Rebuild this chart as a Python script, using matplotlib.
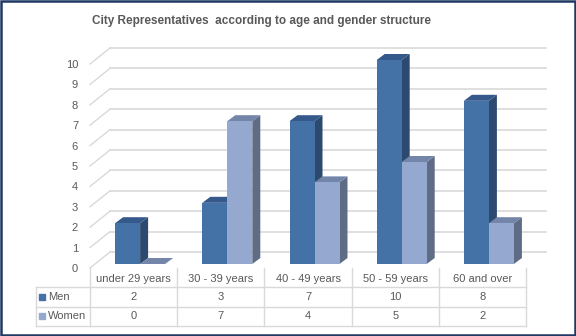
import matplotlib.pyplot as plt
from matplotlib.patches import Polygon, Rectangle

categories = ["under 29 years", "30 - 39 years", "40 - 49 years", "50 - 59 years", "60 and over"]
men = [2, 3, 7, 10, 8]
women = [0, 7, 4, 5, 2]
series_names = ["Men", "Women"]
y_ticks = list(range(0, 11))
title = "City Representatives  according to age and gender structure"

W, H = 576, 336
TEXT = "#595959"
GRID = "#D9D9D9"
MEN_C = ("#4472A6", "#35598A", "#2C4A70")      # front, top, side
WOMEN_C = ("#95A9D0", "#7385A8", "#5E6C86")

plt.rcParams["font.family"] = ["Liberation Sans", "DejaVu Sans"]

fig = plt.figure(figsize=(W / 100, H / 100), dpi=100)


def px_box(x0, y0, x1, y1):
    # pixel box (top-left origin) -> figure rect
    return [x0 / W, 1 - y1 / H, (x1 - x0) / W, (y1 - y0) / H]


# plot area: front floor edge from x=90..526, value 0..10 at y=268..64
ax = fig.add_axes(px_box(90, 64, 526, 268))
n = len(categories)
ax.set_xlim(-0.5, n - 0.5)
ax.set_ylim(0, 10)
for s in ax.spines.values():
    s.set_visible(False)
ax.set_xticks([])
ax.set_yticks(y_ticks)
ax.tick_params(axis="y", length=0, pad=8.6, labelsize=8, labelcolor=TEXT)

xu = n / 436.0   # data units per pixel
yu = 10 / 204.0

# back and side walls (3d depth offset)
wx, wy = 20 * xu, 16 * yu
for v in y_ticks:
    ax.plot([-0.5, -0.5 + wx], [v, v + wy], color=GRID, lw=1, zorder=0.5, clip_on=False)
    ax.plot([-0.5 + wx, n - 0.5 + wx], [v + wy, v + wy], color=GRID, lw=1.2,
            zorder=0.5, clip_on=False)

bw = 25 * xu
shift_x, lift = 6.5 * xu, 4 * yu
dx, dy = 8 * xu, 6 * yu


def bar3d(x0, h, colors):
    front, top, side = colors
    x1 = x0 + bw
    y0, y1 = lift, lift + h
    ax.add_patch(Polygon([(x1, y0), (x1 + dx, y0 + dy), (x1 + dx, y1 + dy), (x1, y1)],
                         closed=True, fc=side, ec="none", zorder=3, clip_on=False))
    ax.add_patch(Polygon([(x0, y1), (x0 + dx, y1 + dy), (x1 + dx, y1 + dy), (x1, y1)],
                         closed=True, fc=top, ec="none", zorder=3, clip_on=False))
    ax.bar(x0, h, width=bw, bottom=y0, align="edge", color=front, lw=0,
           zorder=3, clip_on=False)


for i in range(n):
    c = i + shift_x
    bar3d(c - bw, men[i], MEN_C)
    bar3d(c, women[i], WOMEN_C)

# data table underneath
lab_w = 54 * xu
tx = fig.add_axes(px_box(36, 268, 526, 326))
tx.set_xlim(-0.5 - lab_w, n - 0.5)
tx.set_ylim(3, 0)
tx.axis("off")
x_left = -0.5 - lab_w
for r in (1, 2, 3):
    tx.plot([x_left, n - 0.5], [r, r], color=GRID, lw=1, clip_on=False)
tx.plot([x_left, x_left], [1, 3], color=GRID, lw=1, clip_on=False)
for i in range(n + 1):
    tx.plot([i - 0.5, i - 0.5], [0, 3], color=GRID, lw=1, clip_on=False)

for i, cat in enumerate(categories):
    tx.text(i, 0.55, cat, ha="center", va="center", fontsize=8, color=TEXT)
    tx.text(i, 1.5, str(men[i]), ha="center", va="center", fontsize=8, color=TEXT)
    tx.text(i, 2.5, str(women[i]), ha="center", va="center", fontsize=8, color=TEXT)

for r, (name, colors) in enumerate(zip(series_names, (MEN_C, WOMEN_C))):
    tx.plot(x_left + 5.5 * xu, r + 1.5, marker="s", ms=5, color=colors[0], clip_on=False)
    tx.text(x_left + 12 * xu, r + 1.5, name, ha="left", va="center", fontsize=8, color=TEXT)

fig.text(262 / W, 1 - 24 / H, title, ha="center", va="baseline", fontsize=8.5,
         fontweight="bold", color=TEXT)

fig.patches.append(Rectangle((1.25 / W, 1.25 / H), 1 - 2.5 / W, 1 - 2.5 / H,
                             transform=fig.transFigure, fill=False,
                             ec="#1F3864", lw=1.8))

fig.savefig("out.png", dpi=100)
